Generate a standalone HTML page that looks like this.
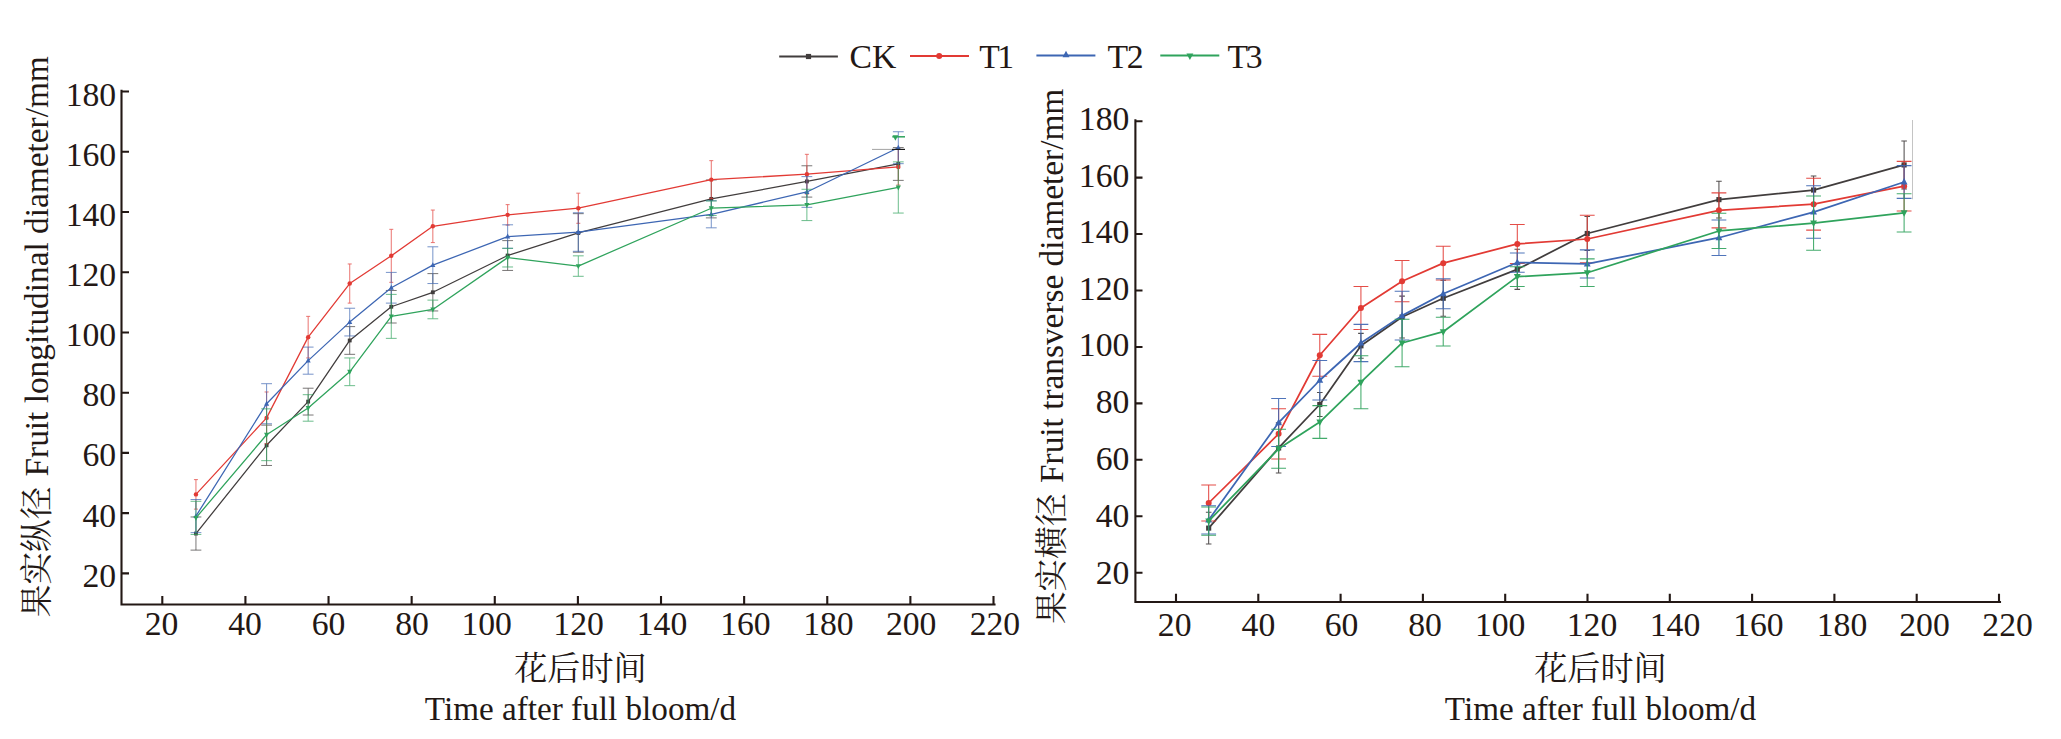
<!DOCTYPE html>
<html lang="zh"><head><meta charset="utf-8"><title>Fruit diameter</title>
<style>
html,body{margin:0;padding:0;background:#fff;}
body{width:2061px;height:739px;overflow:hidden;}
svg{display:block;}
svg text{font-family:"Liberation Serif", "Noto Serif CJK SC", serif;fill:#231815;}
</style></head><body>
<svg width="2061" height="739" viewBox="0 0 2061 739">
<rect width="2061" height="739" fill="#fff"/>
<polyline points="195.95,533.54 266.60,445.29 308.16,401.61 349.72,340.47 391.28,306.74 432.84,292.28 507.65,255.53 578.30,232.94 711.29,198.91 806.88,181.44 898.31,163.97" fill="none" stroke="#413d3d" stroke-width="1.27" stroke-linejoin="round"/>
<g stroke="#413d3d" stroke-width="0.9" opacity="0.78" fill="none"><path d="M195.95 516.97V550.11M190.55 516.97H201.35M190.55 550.11H201.35"/><path d="M266.60 425.11V465.47M261.20 425.11H272.00M261.20 465.47H272.00"/><path d="M308.16 388.21V415.02M302.76 388.21H313.56M302.76 415.02H313.56"/><path d="M349.72 326.61V354.33M344.32 326.61H355.12M344.32 354.33H355.12"/><path d="M391.28 290.47V323.00M385.88 290.47H396.68M385.88 323.00H396.68"/><path d="M432.84 273.60V310.95M427.44 273.60H438.24M427.44 310.95H438.24"/><path d="M507.65 240.62V270.44M502.25 240.62H513.05M502.25 270.44H513.05"/><path d="M578.30 213.66V252.22M572.90 213.66H583.70M572.90 252.22H583.70"/><path d="M711.29 179.93V217.88M705.89 179.93H716.69M705.89 217.88H716.69"/><path d="M806.88 165.77V197.10M801.48 165.77H812.28M801.48 197.10H812.28"/><path d="M898.31 147.55V180.38M892.91 147.55H903.71M892.91 180.38H903.71"/></g>
<rect x="194.03" y="531.62" width="3.84" height="3.84" fill="#413d3d"/>
<rect x="264.68" y="443.37" width="3.84" height="3.84" fill="#413d3d"/>
<rect x="306.24" y="399.69" width="3.84" height="3.84" fill="#413d3d"/>
<rect x="347.80" y="338.55" width="3.84" height="3.84" fill="#413d3d"/>
<rect x="389.36" y="304.82" width="3.84" height="3.84" fill="#413d3d"/>
<rect x="430.92" y="290.36" width="3.84" height="3.84" fill="#413d3d"/>
<rect x="505.73" y="253.61" width="3.84" height="3.84" fill="#413d3d"/>
<rect x="576.38" y="231.02" width="3.84" height="3.84" fill="#413d3d"/>
<rect x="709.37" y="196.99" width="3.84" height="3.84" fill="#413d3d"/>
<rect x="804.96" y="179.52" width="3.84" height="3.84" fill="#413d3d"/>
<rect x="896.39" y="162.05" width="3.84" height="3.84" fill="#413d3d"/>
<polyline points="195.95,494.38 266.60,417.88 308.16,337.16 349.72,283.54 391.28,255.83 432.84,226.32 507.65,214.87 578.30,208.24 711.29,179.63 806.88,174.21 898.31,166.98" fill="none" stroke="#e23a34" stroke-width="1.27" stroke-linejoin="round"/>
<g stroke="#e23a34" stroke-width="0.9" opacity="0.78" fill="none"><path d="M195.95 479.62V509.14M193.95 479.62H197.95M193.95 509.14H197.95"/><path d="M266.60 391.98V443.78M264.60 391.98H268.60M264.60 443.78H268.60"/><path d="M308.16 316.37V357.94M306.16 316.37H310.16M306.16 357.94H310.16"/><path d="M349.72 263.97V303.12M347.72 263.97H351.72M347.72 303.12H351.72"/><path d="M391.28 229.33V282.34M389.28 229.33H393.28M389.28 282.34H393.28"/><path d="M432.84 210.05V242.58M430.84 210.05H434.84M430.84 242.58H434.84"/><path d="M507.65 204.63V225.11M505.65 204.63H509.65M505.65 225.11H509.65"/><path d="M578.30 193.18V223.30M576.30 193.18H580.30M576.30 223.30H580.30"/><path d="M711.29 160.65V198.60M709.29 160.65H713.29M709.29 198.60H713.29"/><path d="M806.88 154.33V194.09M804.88 154.33H808.88M804.88 194.09H808.88"/><path d="M898.31 148.91V185.05M896.31 148.91H900.31M896.31 185.05H900.31"/></g>
<circle cx="195.95" cy="494.38" r="2.24" fill="#e23a34"/>
<circle cx="266.60" cy="417.88" r="2.24" fill="#e23a34"/>
<circle cx="308.16" cy="337.16" r="2.24" fill="#e23a34"/>
<circle cx="349.72" cy="283.54" r="2.24" fill="#e23a34"/>
<circle cx="391.28" cy="255.83" r="2.24" fill="#e23a34"/>
<circle cx="432.84" cy="226.32" r="2.24" fill="#e23a34"/>
<circle cx="507.65" cy="214.87" r="2.24" fill="#e23a34"/>
<circle cx="578.30" cy="208.24" r="2.24" fill="#e23a34"/>
<circle cx="711.29" cy="179.63" r="2.24" fill="#e23a34"/>
<circle cx="806.88" cy="174.21" r="2.24" fill="#e23a34"/>
<circle cx="898.31" cy="166.98" r="2.24" fill="#e23a34"/>
<polyline points="195.95,516.07 266.60,403.72 308.16,360.65 349.72,322.10 391.28,287.76 432.84,265.17 507.65,236.56 578.30,232.04 711.29,214.27 806.88,191.98 898.31,147.70" fill="none" stroke="#3d66b3" stroke-width="1.27" stroke-linejoin="round"/>
<g stroke="#3d66b3" stroke-width="0.9" opacity="0.78" fill="none"><path d="M195.95 499.50V532.64M190.55 499.50H201.35M190.55 532.64H201.35"/><path d="M266.60 383.69V423.75M261.20 383.69H272.00M261.20 423.75H272.00"/><path d="M308.16 347.10V374.20M302.76 347.10H313.56M302.76 374.20H313.56"/><path d="M349.72 308.24V335.95M344.32 308.24H355.12M344.32 335.95H355.12"/><path d="M391.28 272.40V303.12M385.88 272.40H396.68M385.88 303.12H396.68"/><path d="M432.84 246.80V283.54M427.44 246.80H438.24M427.44 283.54H438.24"/><path d="M507.65 224.81V248.30M502.25 224.81H513.05M502.25 248.30H513.05"/><path d="M578.30 212.76V251.31M572.90 212.76H583.70M572.90 251.31H583.70"/><path d="M711.29 200.71V227.82M705.89 200.71H716.69M705.89 227.82H716.69"/><path d="M806.88 176.62V207.34M801.48 176.62H812.28M801.48 207.34H812.28"/><path d="M898.31 131.74V163.67M892.91 131.74H903.71M892.91 163.67H903.71"/></g>
<polygon points="195.95,513.13 193.39,517.99 198.51,517.99" fill="#3d66b3"/>
<polygon points="266.60,400.78 264.04,405.64 269.16,405.64" fill="#3d66b3"/>
<polygon points="308.16,357.71 305.60,362.57 310.72,362.57" fill="#3d66b3"/>
<polygon points="349.72,319.15 347.16,324.02 352.28,324.02" fill="#3d66b3"/>
<polygon points="391.28,284.82 388.72,289.68 393.84,289.68" fill="#3d66b3"/>
<polygon points="432.84,262.23 430.28,267.09 435.40,267.09" fill="#3d66b3"/>
<polygon points="507.65,233.61 505.09,238.48 510.21,238.48" fill="#3d66b3"/>
<polygon points="578.30,229.09 575.74,233.96 580.86,233.96" fill="#3d66b3"/>
<polygon points="711.29,211.32 708.73,216.19 713.85,216.19" fill="#3d66b3"/>
<polygon points="806.88,189.03 804.32,193.90 809.44,193.90" fill="#3d66b3"/>
<polygon points="898.31,144.76 895.75,149.62 900.87,149.62" fill="#3d66b3"/>
<polyline points="195.95,517.88 266.60,434.75 308.16,407.94 349.72,371.79 391.28,316.37 432.84,309.45 507.65,257.64 578.30,266.07 711.29,208.24 806.88,204.93 898.31,187.46" fill="none" stroke="#2fa35c" stroke-width="1.27" stroke-linejoin="round"/>
<g stroke="#2fa35c" stroke-width="0.9" opacity="0.78" fill="none"><path d="M195.95 501.31V534.44M190.55 501.31H201.35M190.55 534.44H201.35"/><path d="M266.60 408.84V460.65M261.20 408.84H272.00M261.20 460.65H272.00"/><path d="M308.16 394.69V421.19M302.76 394.69H313.56M302.76 421.19H313.56"/><path d="M349.72 357.94V385.65M344.32 357.94H355.12M344.32 385.65H355.12"/><path d="M391.28 294.39V338.36M385.88 294.39H396.68M385.88 338.36H396.68"/><path d="M432.84 300.11V318.78M427.44 300.11H438.24M427.44 318.78H438.24"/><path d="M507.65 248.30V266.98M502.25 248.30H513.05M502.25 266.98H513.05"/><path d="M578.30 255.83V276.31M572.90 255.83H583.70M572.90 276.31H583.70"/><path d="M711.29 201.01V215.47M705.89 201.01H716.69M705.89 215.47H716.69"/><path d="M806.88 189.27V220.59M801.48 189.27H812.28M801.48 220.59H812.28"/><path d="M898.31 161.86V213.06M892.91 161.86H903.71M892.91 213.06H903.71"/></g>
<polygon points="195.95,520.82 193.39,515.96 198.51,515.96" fill="#2fa35c"/>
<polygon points="266.60,437.69 264.04,432.83 269.16,432.83" fill="#2fa35c"/>
<polygon points="308.16,410.88 305.60,406.02 310.72,406.02" fill="#2fa35c"/>
<polygon points="349.72,374.74 347.16,369.87 352.28,369.87" fill="#2fa35c"/>
<polygon points="391.28,319.32 388.72,314.45 393.84,314.45" fill="#2fa35c"/>
<polygon points="432.84,312.39 430.28,307.53 435.40,307.53" fill="#2fa35c"/>
<polygon points="507.65,260.58 505.09,255.72 510.21,255.72" fill="#2fa35c"/>
<polygon points="578.30,269.02 575.74,264.15 580.86,264.15" fill="#2fa35c"/>
<polygon points="711.29,211.19 708.73,206.32 713.85,206.32" fill="#2fa35c"/>
<polygon points="806.88,207.87 804.32,203.01 809.44,203.01" fill="#2fa35c"/>
<polygon points="898.31,190.40 895.75,185.54 900.87,185.54" fill="#2fa35c"/>
<path d="M121.50 90.90V604.50H994.50" fill="none" stroke="#231815" stroke-width="2.1" stroke-linecap="square" stroke-linejoin="miter"/>
<path d="M162.30 596.00V604.50M245.42 596.00V604.50M328.54 596.00V604.50M411.66 596.00V604.50M494.78 596.00V604.50M577.90 596.00V604.50M661.02 596.00V604.50M744.14 596.00V604.50M827.26 596.00V604.50M910.38 596.00V604.50M993.50 596.00V604.50M121.50 573.40H129.00M121.50 513.16H129.00M121.50 452.92H129.00M121.50 392.68H129.00M121.50 332.44H129.00M121.50 272.20H129.00M121.50 211.96H129.00M121.50 151.72H129.00M121.50 91.48H129.00" fill="none" stroke="#231815" stroke-width="2.1"/>
<polyline points="1208.67,528.11 1278.62,447.97 1319.78,404.51 1360.92,345.81 1402.08,317.03 1443.22,298.26 1517.30,269.34 1587.25,233.50 1718.93,199.63 1813.58,190.04 1904.11,164.92" fill="none" stroke="#413d3d" stroke-width="1.75" stroke-linejoin="round"/>
<g stroke="#413d3d" stroke-width="1.05" opacity="0.9" fill="none"><path d="M1208.67 512.31V543.92M1205.87 512.31H1211.47M1205.87 543.92H1211.47"/><path d="M1278.62 422.85V473.08M1275.83 422.85H1281.42M1275.83 473.08H1281.42"/><path d="M1319.78 392.52V416.50M1316.98 392.52H1322.58M1316.98 416.50H1322.58"/><path d="M1360.92 333.39V358.23M1358.12 333.39H1363.72M1358.12 358.23H1363.72"/><path d="M1402.08 296.14V337.91M1399.28 296.14H1404.88M1399.28 337.91H1404.88"/><path d="M1443.22 280.20V316.32M1440.42 280.20H1446.02M1440.42 316.32H1446.02"/><path d="M1517.30 249.30V289.37M1514.50 249.30H1520.10M1514.50 289.37H1520.10"/><path d="M1587.25 216.56V250.43M1584.45 216.56H1590.05M1584.45 250.43H1590.05"/><path d="M1718.93 181.29V217.97M1716.13 181.29H1721.73M1716.13 217.97H1721.73"/><path d="M1813.58 175.93V204.15M1810.78 175.93H1816.38M1810.78 204.15H1816.38"/><path d="M1904.11 140.93V188.91M1901.31 140.93H1906.90M1901.31 188.91H1906.90"/></g>
<rect x="1206.10" y="525.54" width="5.14" height="5.14" fill="#413d3d"/>
<rect x="1276.06" y="445.40" width="5.14" height="5.14" fill="#413d3d"/>
<rect x="1317.21" y="401.94" width="5.14" height="5.14" fill="#413d3d"/>
<rect x="1358.36" y="343.24" width="5.14" height="5.14" fill="#413d3d"/>
<rect x="1399.51" y="314.46" width="5.14" height="5.14" fill="#413d3d"/>
<rect x="1440.66" y="295.69" width="5.14" height="5.14" fill="#413d3d"/>
<rect x="1514.73" y="266.77" width="5.14" height="5.14" fill="#413d3d"/>
<rect x="1584.68" y="230.93" width="5.14" height="5.14" fill="#413d3d"/>
<rect x="1716.36" y="197.06" width="5.14" height="5.14" fill="#413d3d"/>
<rect x="1811.01" y="187.47" width="5.14" height="5.14" fill="#413d3d"/>
<rect x="1901.54" y="162.35" width="5.14" height="5.14" fill="#413d3d"/>
<polyline points="1208.67,503.00 1278.62,433.86 1319.78,355.26 1360.92,308.00 1402.08,281.19 1443.22,263.13 1517.30,243.94 1587.25,239.00 1718.93,210.36 1813.58,204.15 1904.11,186.23" fill="none" stroke="#e23a34" stroke-width="1.75" stroke-linejoin="round"/>
<g stroke="#e23a34" stroke-width="1.05" opacity="0.9" fill="none"><path d="M1208.67 484.94V521.06M1201.27 484.94H1216.07M1201.27 521.06H1216.07"/><path d="M1278.62 408.74V458.97M1271.22 408.74H1286.03M1271.22 458.97H1286.03"/><path d="M1319.78 334.38V376.15M1312.38 334.38H1327.18M1312.38 376.15H1327.18"/><path d="M1360.92 286.55V329.44M1353.52 286.55H1368.33M1353.52 329.44H1368.33"/><path d="M1402.08 260.59V301.79M1394.67 260.59H1409.48M1394.67 301.79H1409.48"/><path d="M1443.22 246.19V280.06M1435.82 246.19H1450.62M1435.82 280.06H1450.62"/><path d="M1517.30 224.47V263.41M1509.89 224.47H1524.70M1509.89 263.41H1524.70"/><path d="M1587.25 215.29V262.70M1579.85 215.29H1594.65M1579.85 262.70H1594.65"/><path d="M1718.93 192.86V227.85M1711.53 192.86H1726.33M1711.53 227.85H1726.33"/><path d="M1813.58 178.18V230.11M1806.17 178.18H1820.98M1806.17 230.11H1820.98"/><path d="M1904.11 161.39V211.06M1896.70 161.39H1911.51M1896.70 211.06H1911.51"/></g>
<circle cx="1208.67" cy="503.00" r="3.00" fill="#e23a34"/>
<circle cx="1278.62" cy="433.86" r="3.00" fill="#e23a34"/>
<circle cx="1319.78" cy="355.26" r="3.00" fill="#e23a34"/>
<circle cx="1360.92" cy="308.00" r="3.00" fill="#e23a34"/>
<circle cx="1402.08" cy="281.19" r="3.00" fill="#e23a34"/>
<circle cx="1443.22" cy="263.13" r="3.00" fill="#e23a34"/>
<circle cx="1517.30" cy="243.94" r="3.00" fill="#e23a34"/>
<circle cx="1587.25" cy="239.00" r="3.00" fill="#e23a34"/>
<circle cx="1718.93" cy="210.36" r="3.00" fill="#e23a34"/>
<circle cx="1813.58" cy="204.15" r="3.00" fill="#e23a34"/>
<circle cx="1904.11" cy="186.23" r="3.00" fill="#e23a34"/>
<polyline points="1208.67,519.93 1278.62,422.57 1319.78,380.24 1360.92,342.99 1402.08,315.62 1443.22,293.75 1517.30,262.56 1587.25,263.97 1718.93,237.73 1813.58,212.05 1904.11,181.99" fill="none" stroke="#3d66b3" stroke-width="1.75" stroke-linejoin="round"/>
<g stroke="#3d66b3" stroke-width="1.05" opacity="0.9" fill="none"><path d="M1208.67 505.82V534.04M1201.27 505.82H1216.07M1201.27 534.04H1216.07"/><path d="M1278.62 398.58V446.56M1271.22 398.58H1286.03M1271.22 446.56H1286.03"/><path d="M1319.78 360.49V399.99M1312.38 360.49H1327.18M1312.38 399.99H1327.18"/><path d="M1360.92 324.36V361.61M1353.52 324.36H1368.33M1353.52 361.61H1368.33"/><path d="M1402.08 291.21V340.03M1394.67 291.21H1409.48M1394.67 340.03H1409.48"/><path d="M1443.22 278.79V308.70M1435.82 278.79H1450.62M1435.82 308.70H1450.62"/><path d="M1517.30 252.97V272.16M1509.89 252.97H1524.70M1509.89 272.16H1524.70"/><path d="M1587.25 249.86V278.08M1579.85 249.86H1594.65M1579.85 278.08H1594.65"/><path d="M1718.93 219.95V255.51M1711.53 219.95H1726.33M1711.53 255.51H1726.33"/><path d="M1813.58 185.80V238.29M1806.17 185.80H1820.98M1806.17 238.29H1820.98"/><path d="M1904.11 165.63V198.36M1896.70 165.63H1911.51M1896.70 198.36H1911.51"/></g>
<polygon points="1208.67,515.99 1205.25,522.50 1212.09,522.50" fill="#3d66b3"/>
<polygon points="1278.62,418.63 1275.20,425.14 1282.05,425.14" fill="#3d66b3"/>
<polygon points="1319.78,376.30 1316.35,382.81 1323.20,382.81" fill="#3d66b3"/>
<polygon points="1360.92,339.05 1357.50,345.56 1364.35,345.56" fill="#3d66b3"/>
<polygon points="1402.08,311.68 1398.65,318.18 1405.50,318.18" fill="#3d66b3"/>
<polygon points="1443.22,289.81 1439.80,296.31 1446.65,296.31" fill="#3d66b3"/>
<polygon points="1517.30,258.62 1513.87,265.13 1520.72,265.13" fill="#3d66b3"/>
<polygon points="1587.25,260.04 1583.83,266.54 1590.67,266.54" fill="#3d66b3"/>
<polygon points="1718.93,233.79 1715.51,240.30 1722.35,240.30" fill="#3d66b3"/>
<polygon points="1813.58,208.11 1810.15,214.62 1817.00,214.62" fill="#3d66b3"/>
<polygon points="1904.11,178.06 1900.68,184.56 1907.53,184.56" fill="#3d66b3"/>
<polyline points="1208.67,521.06 1278.62,448.81 1319.78,422.01 1360.92,382.22 1402.08,342.99 1443.22,331.70 1517.30,276.67 1587.25,272.72 1718.93,230.96 1813.58,223.05 1904.11,212.90" fill="none" stroke="#2fa35c" stroke-width="1.75" stroke-linejoin="round"/>
<g stroke="#2fa35c" stroke-width="1.05" opacity="0.9" fill="none"><path d="M1208.67 506.95V535.17M1201.27 506.95H1216.07M1201.27 535.17H1216.07"/><path d="M1278.62 429.34V468.29M1271.22 429.34H1286.03M1271.22 468.29H1286.03"/><path d="M1319.78 405.64V438.37M1312.38 405.64H1327.18M1312.38 438.37H1327.18"/><path d="M1360.92 355.69V408.74M1353.52 355.69H1368.33M1353.52 408.74H1368.33"/><path d="M1402.08 319.28V366.69M1394.67 319.28H1409.48M1394.67 366.69H1409.48"/><path d="M1443.22 317.31V346.09M1435.82 317.31H1450.62M1435.82 346.09H1450.62"/><path d="M1517.30 266.80V286.55M1509.89 266.80H1524.70M1509.89 286.55H1524.70"/><path d="M1587.25 258.89V286.55M1579.85 258.89H1594.65M1579.85 286.55H1594.65"/><path d="M1718.93 213.32V248.59M1711.53 213.32H1726.33M1711.53 248.59H1726.33"/><path d="M1813.58 195.96V250.15M1806.17 195.96H1820.98M1806.17 250.15H1820.98"/><path d="M1904.11 193.71V232.08M1896.70 193.71H1911.51M1896.70 232.08H1911.51"/></g>
<polygon points="1208.67,525.00 1205.25,518.49 1212.09,518.49" fill="#2fa35c"/>
<polygon points="1278.62,452.75 1275.20,446.25 1282.05,446.25" fill="#2fa35c"/>
<polygon points="1319.78,425.94 1316.35,419.44 1323.20,419.44" fill="#2fa35c"/>
<polygon points="1360.92,386.15 1357.50,379.65 1364.35,379.65" fill="#2fa35c"/>
<polygon points="1402.08,346.93 1398.65,340.42 1405.50,340.42" fill="#2fa35c"/>
<polygon points="1443.22,335.64 1439.80,329.13 1446.65,329.13" fill="#2fa35c"/>
<polygon points="1517.30,280.61 1513.87,274.10 1520.72,274.10" fill="#2fa35c"/>
<polygon points="1587.25,276.66 1583.83,270.15 1590.67,270.15" fill="#2fa35c"/>
<polygon points="1718.93,234.89 1715.51,228.39 1722.35,228.39" fill="#2fa35c"/>
<polygon points="1813.58,226.99 1810.15,220.49 1817.00,220.49" fill="#2fa35c"/>
<polygon points="1904.11,216.83 1900.68,210.33 1907.53,210.33" fill="#2fa35c"/>
<path d="M1135.40 120.20V602.00H2000.00" fill="none" stroke="#231815" stroke-width="2.1" stroke-linecap="square" stroke-linejoin="miter"/>
<path d="M1176.00 593.70V602.00M1258.30 593.70V602.00M1340.60 593.70V602.00M1422.90 593.70V602.00M1505.20 593.70V602.00M1587.50 593.70V602.00M1669.80 593.70V602.00M1752.10 593.70V602.00M1834.40 593.70V602.00M1916.70 593.70V602.00M1999.00 593.70V602.00M1135.40 572.70H1142.50M1135.40 516.26H1142.50M1135.40 459.82H1142.50M1135.40 403.38H1142.50M1135.40 346.94H1142.50M1135.40 290.50H1142.50M1135.40 234.06H1142.50M1135.40 177.62H1142.50M1135.40 121.18H1142.50" fill="none" stroke="#231815" stroke-width="2.1"/>
<path d="M872 149.4H892" stroke="#8a8a8a" stroke-width="0.8"/><path d="M892 149.4H905" stroke="#1a1a1a" stroke-width="1.2"/>
<path d="M892.3 136.8H905" stroke="#2fa35c" stroke-width="1.5"/><polygon points="895.40,140.71 892.52,135.24 898.28,135.24" fill="#2fa35c"/>
<path d="M1912.5 120V199.3" stroke="#b5b5b5" stroke-width="0.8"/>
<path d="M779.2 56.5H837.9" stroke="#413d3d" stroke-width="2.0"/><rect x="805.91" y="53.91" width="5.18" height="5.18" fill="#413d3d"/>
<path d="M910 56.0H969" stroke="#e23a34" stroke-width="1.8"/><circle cx="939.20" cy="56.00" r="3.02" fill="#e23a34"/>
<path d="M1036.4 55.5H1095.4" stroke="#3d66b3" stroke-width="1.85"/><polygon points="1066.00,50.63 1062.54,57.19 1069.46,57.19" fill="#3d66b3"/>
<path d="M1160.3 55.5H1219.3" stroke="#2fa35c" stroke-width="1.85"/><polygon points="1189.90,59.97 1186.44,53.41 1193.36,53.41" fill="#2fa35c"/>
<g>
<text x="161.60" y="634.80" text-anchor="middle" font-size="33.7" >20</text>
<text x="245.10" y="634.80" text-anchor="middle" font-size="33.7" >40</text>
<text x="328.50" y="634.80" text-anchor="middle" font-size="33.7" >60</text>
<text x="412.10" y="634.80" text-anchor="middle" font-size="33.7" >80</text>
<text x="486.70" y="634.80" text-anchor="middle" font-size="33.7" >100</text>
<text x="578.60" y="634.80" text-anchor="middle" font-size="33.7" >120</text>
<text x="662.00" y="634.80" text-anchor="middle" font-size="33.7" >140</text>
<text x="745.40" y="634.80" text-anchor="middle" font-size="33.7" >160</text>
<text x="828.40" y="634.80" text-anchor="middle" font-size="33.7" >180</text>
<text x="911.20" y="634.80" text-anchor="middle" font-size="33.7" >200</text>
<text x="994.90" y="634.80" text-anchor="middle" font-size="33.7" >220</text>
<text x="116.20" y="587.30" text-anchor="end" font-size="33.7" >20</text>
<text x="116.20" y="526.80" text-anchor="end" font-size="33.7" >40</text>
<text x="116.20" y="466.40" text-anchor="end" font-size="33.7" >60</text>
<text x="116.20" y="406.10" text-anchor="end" font-size="33.7" >80</text>
<text x="116.20" y="345.90" text-anchor="end" font-size="33.7" >100</text>
<text x="116.20" y="285.80" text-anchor="end" font-size="33.7" >120</text>
<text x="116.20" y="225.80" text-anchor="end" font-size="33.7" >140</text>
<text x="116.20" y="165.90" text-anchor="end" font-size="33.7" >160</text>
<text x="116.20" y="106.10" text-anchor="end" font-size="33.7" >180</text>
<text x="1174.70" y="636.00" text-anchor="middle" font-size="33.7" >20</text>
<text x="1258.40" y="636.00" text-anchor="middle" font-size="33.7" >40</text>
<text x="1341.50" y="636.00" text-anchor="middle" font-size="33.7" >60</text>
<text x="1425.10" y="636.00" text-anchor="middle" font-size="33.7" >80</text>
<text x="1500.20" y="636.00" text-anchor="middle" font-size="33.7" >100</text>
<text x="1592.00" y="636.00" text-anchor="middle" font-size="33.7" >120</text>
<text x="1675.00" y="636.00" text-anchor="middle" font-size="33.7" >140</text>
<text x="1758.40" y="636.00" text-anchor="middle" font-size="33.7" >160</text>
<text x="1842.00" y="636.00" text-anchor="middle" font-size="33.7" >180</text>
<text x="1924.50" y="636.00" text-anchor="middle" font-size="33.7" >200</text>
<text x="2007.60" y="636.00" text-anchor="middle" font-size="33.7" >220</text>
<text x="1129.40" y="584.30" text-anchor="end" font-size="33.7" >20</text>
<text x="1129.40" y="527.19" text-anchor="end" font-size="33.7" >40</text>
<text x="1129.40" y="470.18" text-anchor="end" font-size="33.7" >60</text>
<text x="1129.40" y="413.27" text-anchor="end" font-size="33.7" >80</text>
<text x="1129.40" y="356.46" text-anchor="end" font-size="33.7" >100</text>
<text x="1129.40" y="299.75" text-anchor="end" font-size="33.7" >120</text>
<text x="1129.40" y="243.14" text-anchor="end" font-size="33.7" >140</text>
<text x="1129.40" y="186.63" text-anchor="end" font-size="33.7" >160</text>
<text x="1129.40" y="130.22" text-anchor="end" font-size="33.7" >180</text>
<text x="580.40" y="680.00" text-anchor="middle" font-size="33.1" >花后时间</text>
<text x="580.50" y="719.70" text-anchor="middle" font-size="33.2" >Time after full bloom/d</text>
<text x="1600.40" y="680.00" text-anchor="middle" font-size="33.1" >花后时间</text>
<text x="1600.50" y="719.70" text-anchor="middle" font-size="33.2" >Time after full bloom/d</text>
<text transform="translate(48.0 617.30) rotate(-90)" font-size="32.7">果实纵径</text>
<text transform="translate(47.9 476.50) rotate(-90)" font-size="33.35">Fruit longitudinal diameter/mm</text>
<text transform="translate(1062.8 624.10) rotate(-90)" font-size="32.7">果实横径</text>
<text transform="translate(1062.8 483.00) rotate(-90)" font-size="33.33">Fruit transverse diameter/mm</text>
<text x="849.50" y="67.80" text-anchor="start" font-size="33.7" >CK</text>
<text x="979.20" y="67.80" text-anchor="start" font-size="33.7" letter-spacing="-2.4">T1</text>
<text x="1107.60" y="67.80" text-anchor="start" font-size="33.7" letter-spacing="-1.4">T2</text>
<text x="1227.60" y="67.80" text-anchor="start" font-size="33.7" letter-spacing="-2.5">T3</text>
</g>
</svg>
</body></html>
